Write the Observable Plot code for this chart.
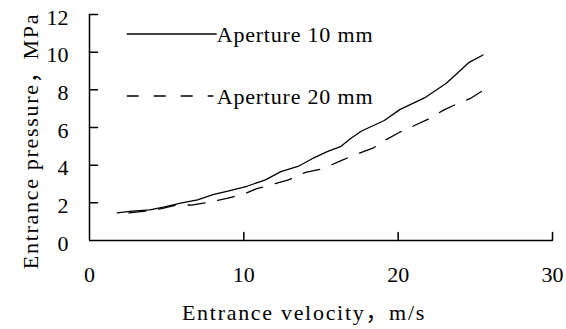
<!DOCTYPE html>
<html><head><meta charset="utf-8">
<script src="https://cdn.jsdelivr.net/npm/d3@7"></script>
<script src="https://cdn.jsdelivr.net/npm/@observablehq/plot@0.6"></script>
<style>
body{margin:0;background:#fff;}
#wrap{position:relative;width:566px;height:329px;font-family:"Liberation Serif","Noto Sans CJK SC",serif;}
#wrap svg text{font-family:"Liberation Serif","Noto Sans CJK SC",serif;}
#legend text{letter-spacing:0.8px;}
#legend{position:absolute;left:0;top:0;pointer-events:none;}
</style></head><body><div id="wrap"></div>
<script>
// Aperture 10 mm (solid)
const vel10 = [1.8,2.6,3.9,4.8,5.9,7.0,8.0,9.1,10.2,11.4,12.4,13.5,14.4,15.4,16.3,16.9,17.6,19.1,20.1,21.7,23.1,23.9,24.6,25.5];
const pres10 = [1.47,1.55,1.63,1.77,1.98,2.16,2.44,2.65,2.88,3.22,3.66,3.93,4.33,4.72,5.00,5.40,5.80,6.37,6.95,7.57,8.34,8.93,9.46,9.85];
// Aperture 20 mm (dashed)
const vel20 = [2.55,3.9,4.8,5.7,6.6,7.7,8.9,9.9,10.8,11.6,12.9,14.0,15.1,16.3,17.2,18.4,19.1,20.1,20.8,22.0,23.0,23.9,24.7,25.7];
const pres20 = [1.47,1.58,1.72,1.90,1.88,2.03,2.24,2.44,2.74,2.92,3.22,3.62,3.80,4.24,4.55,4.92,5.30,5.75,6.01,6.46,6.95,7.28,7.55,8.08];
const seriesNames = ["Aperture 10 mm","Aperture 20 mm"];
const xTicks = [0,10,20,30];
const yTicks = [0,2,4,6,8,10,12];
const xLabel = "Entrance velocity，m/s";
const yLabel = "Entrance pressure，MPa";

const d10 = vel10.map((v,i)=>({v, p: pres10[i]}));
const d20 = vel20.map((v,i)=>({v, p: pres20[i]}));
const font = "Liberation Serif, Noto Sans CJK SC, serif";
const fs = 22;
const tickShape = {draw(ctx, l){ ctx.moveTo(0,0); ctx.lineTo(0,-l); }};

const chart = Plot.plot({
  width: 566, height: 329,
  marginLeft: 89, marginRight: 14, marginTop: 14, marginBottom: 89,
  style: {fontFamily: font, fontSize: fs + "px", background: "#fff", color: "#000"},
  x: {domain: [0,30]},
  y: {domain: [0,12]},
  marks: [
    Plot.axisX(xTicks, {tickSize: 0, tickPadding: 26, fontSize: fs, fontFamily: font, label: null}),
    Plot.axisY(yTicks, {tickSize: 0, tickPadding: 21, dy: 3, fontSize: fs, fontFamily: font, label: null}),
    Plot.vector(xTicks.filter(d=>d>0), {x: d=>d, y: d=>0, length: 8, rotate: 0, anchor: "start", shape: tickShape, stroke: "#000", strokeWidth: 1.5}),
    Plot.vector(yTicks.filter(d=>d>0), {x: d=>0, y: d=>d, length: 8, rotate: 90, anchor: "start", shape: tickShape, stroke: "#000", strokeWidth: 1.5}),
    Plot.ruleX([0], {stroke: "#000", strokeWidth: 1.5}),
    Plot.ruleY([0], {stroke: "#000", strokeWidth: 1.5}),
    Plot.line(d10, {x: "v", y: "p", stroke: "#000", strokeWidth: 1.3}),
    Plot.line(d20, {x: "v", y: "p", stroke: "#000", strokeWidth: 1.3, strokeDasharray: "17,13"}),
    Plot.text([xLabel], {text: d=>d, frameAnchor: "bottom", lineAnchor: "bottom", textAnchor: "middle", dx: -17, dy: 79, fontSize: fs, fontFamily: font}),
    Plot.text([yLabel], {text: d=>d, frameAnchor: "left", lineAnchor: "bottom", textAnchor: "middle", rotate: -90, dx: -52, dy: 13.5, fontSize: fs, fontFamily: font})
  ]
});
chart.style.fontFamily = font;
d3.select(chart).selectAll("text")
  .filter(function(){ return this.textContent === xLabel || this.textContent === yLabel; })
  .style("letter-spacing", "1.7px");
const wrap = document.getElementById("wrap");
wrap.appendChild(chart);

// legend overlay
const ns = "http://www.w3.org/2000/svg";
const lg = document.createElementNS(ns, "svg");
lg.setAttribute("id","legend"); lg.setAttribute("width",566); lg.setAttribute("height",329);
const items = [
  {name: seriesNames[0], y: 34, dash: null, x2: 216.7},
  {name: seriesNames[1], y: 96, dash: "12,15", x2: 213.5}
];
items.forEach(it => {
  const ln = document.createElementNS(ns,"line");
  ln.setAttribute("x1",126.7); ln.setAttribute("x2",it.x2);
  ln.setAttribute("y1",it.y); ln.setAttribute("y2",it.y);
  ln.setAttribute("stroke","#000"); ln.setAttribute("stroke-width",1.3);
  if (it.dash) ln.setAttribute("stroke-dasharray", it.dash);
  lg.appendChild(ln);
  const t = document.createElementNS(ns,"text");
  t.setAttribute("x",216.7); t.setAttribute("y",it.y+7.7);
  t.setAttribute("font-size",fs);
  t.textContent = it.name;
  lg.appendChild(t);
});
wrap.appendChild(lg);
</script></body></html>
